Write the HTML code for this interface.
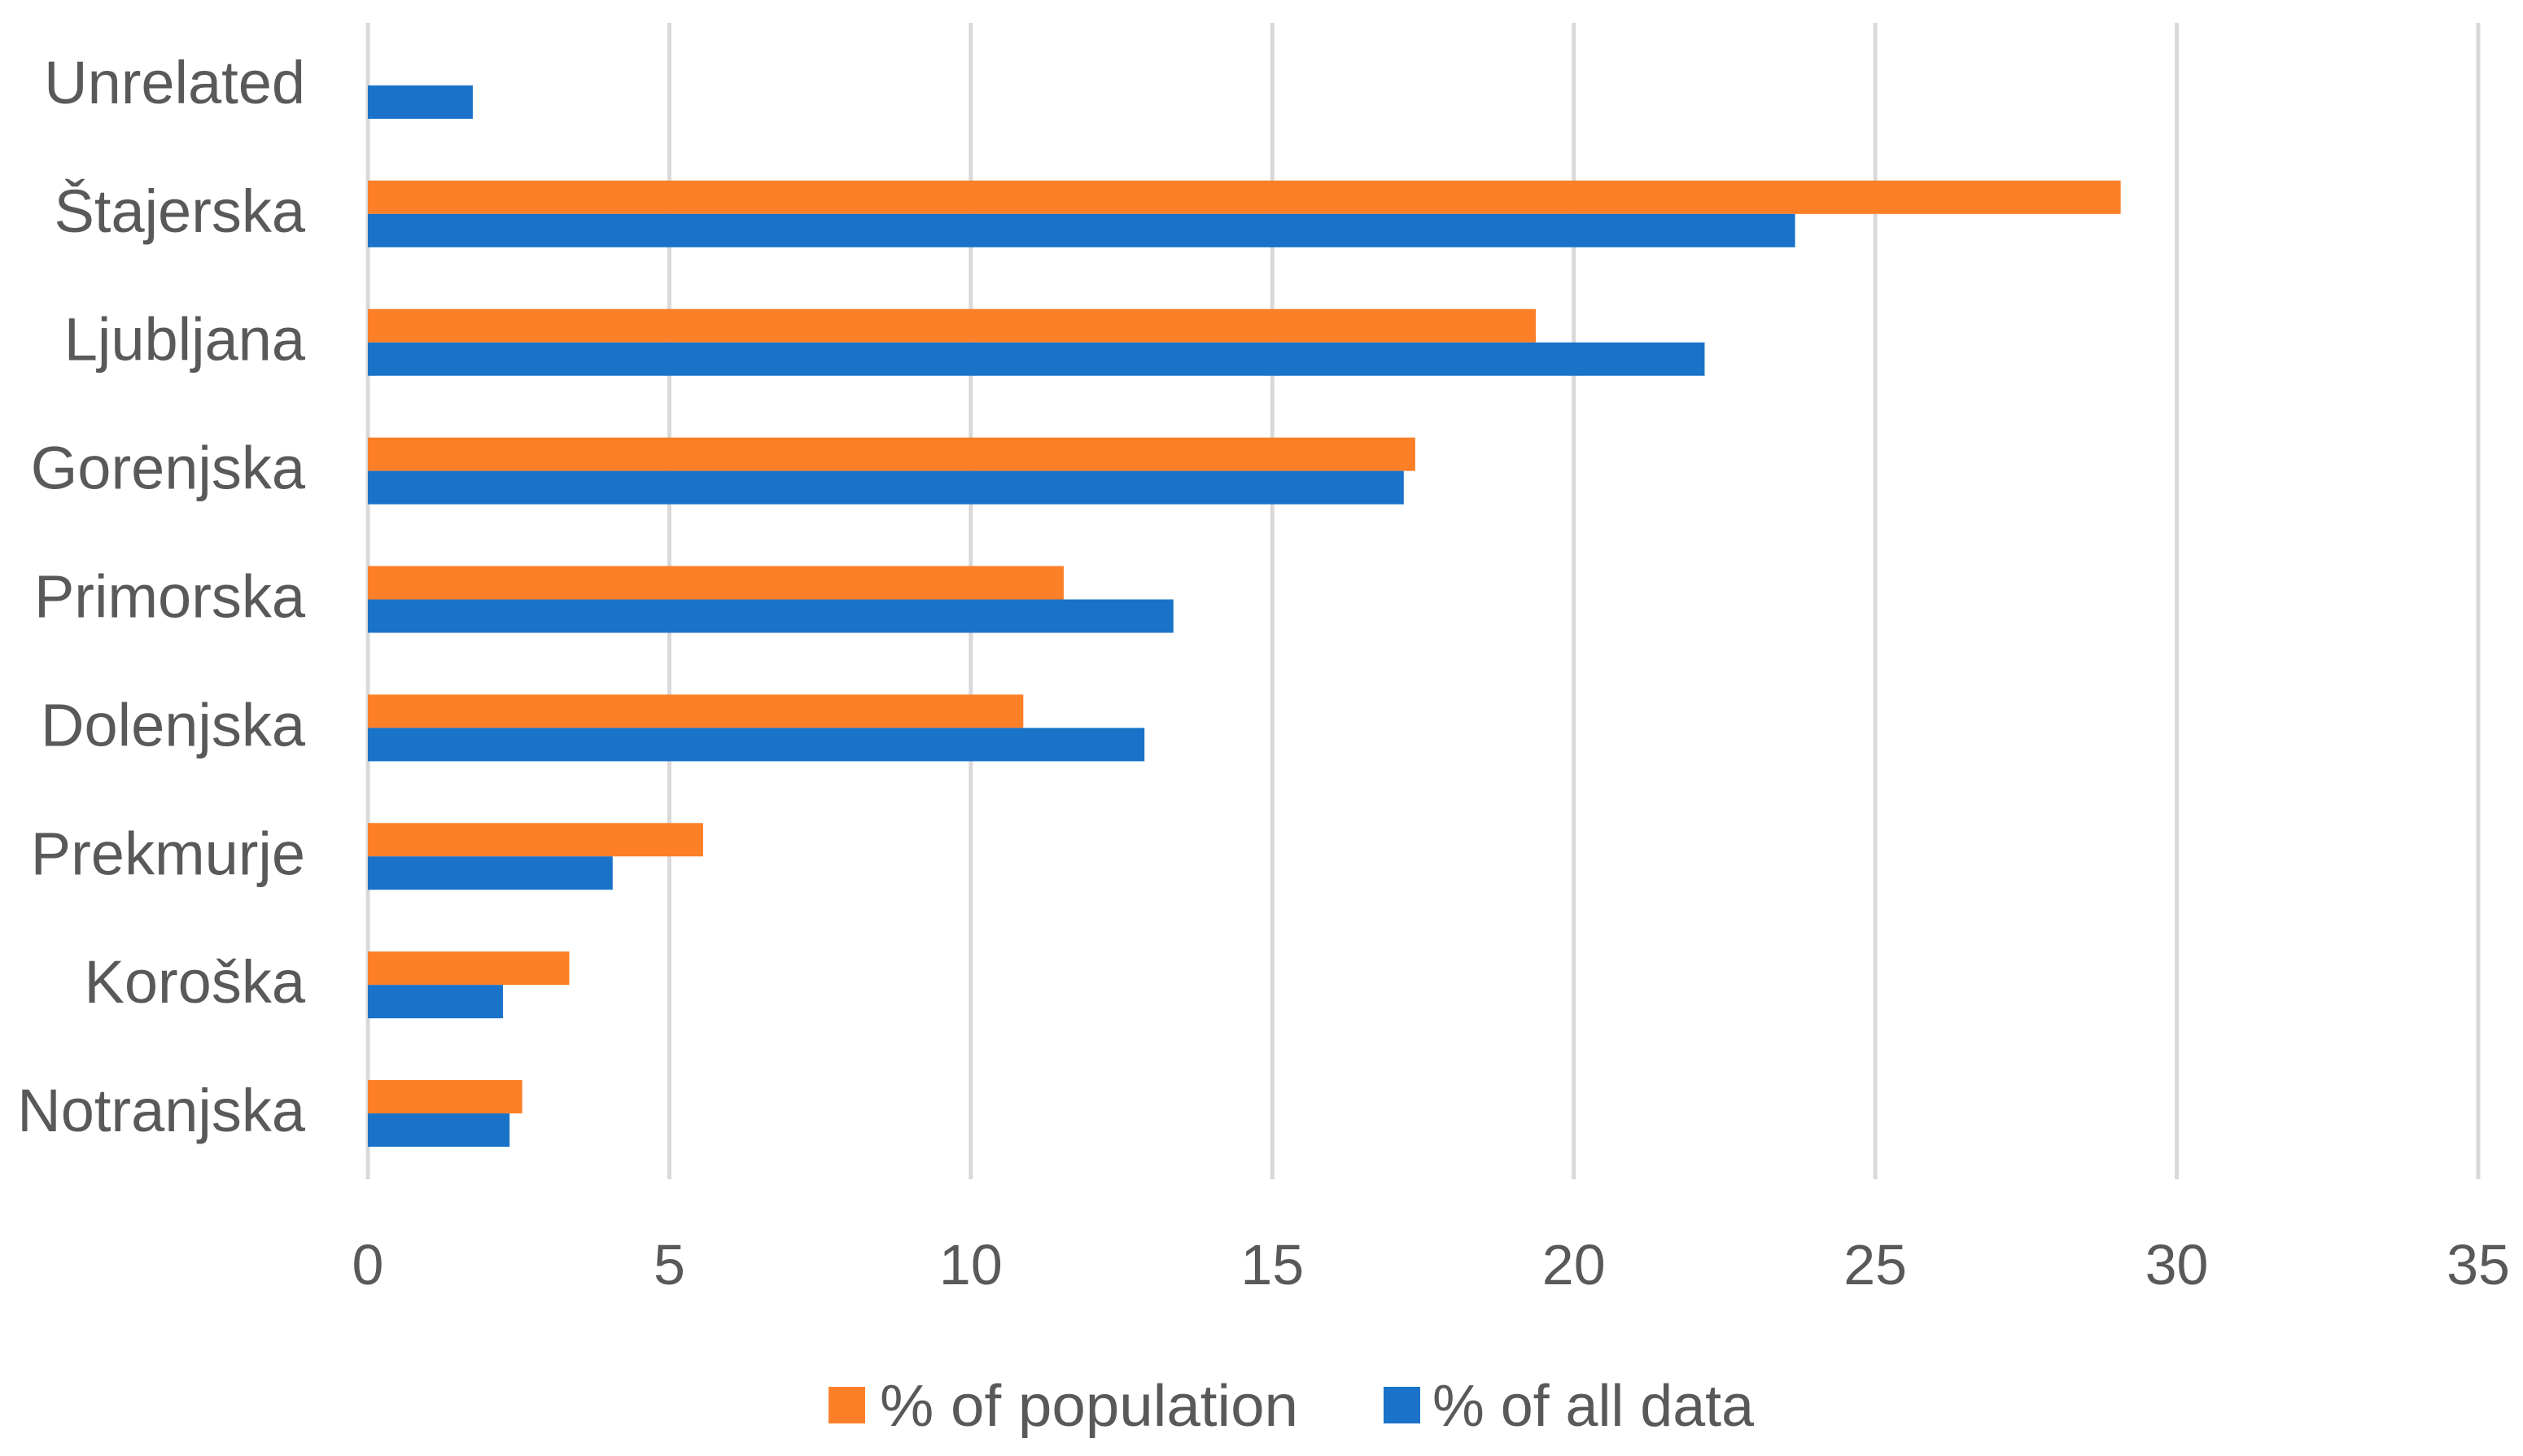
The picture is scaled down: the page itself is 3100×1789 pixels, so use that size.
<!DOCTYPE html>
<html><head><meta charset="utf-8"><style>
html,body{margin:0;padding:0;background:#fff;}
svg text{font-family:"Liberation Sans",sans-serif;fill:#595959;}
</style></head><body>
<svg id="chart" width="3100" height="1784" viewBox="0 0 3100 1784" xmlns="http://www.w3.org/2000/svg">
<g id="grid"></g>
<g id="bars"></g>
<g id="ylabels"></g>
<g id="xlabels"></g>
<g>
  <g>
    <rect x="1018" y="1704" width="45" height="45" fill="#fd7f28"></rect>
    <text x="1081" y="1752" font-size="72" textLength="514" lengthAdjust="spacingAndGlyphs">% of population</text>
  </g>
  <g>
    <rect x="1700" y="1704" width="45" height="45" fill="#1a73c8"></rect>
    <text x="1760" y="1752" font-size="72" textLength="395" lengthAdjust="spacingAndGlyphs">% of all data</text>
  </g>
</g>
</svg>
<script>
const categories = ["Unrelated","Štajerska","Ljubljana","Gorenjska","Primorska","Dolenjska","Prekmurje","Koroška","Notranjska"];
const populationValues = [0, 29.07, 19.37, 17.37, 11.54, 10.87, 5.56, 3.34, 2.56];
const allDataValues = [1.74, 23.67, 22.17, 17.18, 13.36, 12.88, 4.06, 2.24, 2.35];
const xTicks = [0,5,10,15,20,25,30,35];

const NS = "http://www.w3.org/2000/svg";
const x0 = 452, x1 = 3045, xMax = 35;
const yTop = 28, yBot = 1449;
const band = (yBot - yTop) / categories.length;
const barH = 41;
const xs = v => x0 + (v / xMax) * (x1 - x0);
const yc = i => yTop + band * (i + 0.5);

function mk(tag, attrs, parent){
  const el = document.createElementNS(NS, tag);
  for (const k in attrs) el.setAttribute(k, attrs[k]);
  parent.appendChild(el);
  return el;
}
const grid = document.getElementById('grid');
const xl = document.getElementById('xlabels');
xTicks.forEach(t => {
  const l = mk('line', {x1: xs(t), x2: xs(t), y1: yTop, y2: yBot, stroke: '#d9d9d9', 'stroke-width': 5}, grid);
  
  
  const tx = mk('text', {x: xs(t), y: 1578, 'font-size': 70, 'text-anchor': 'middle'}, xl);
  tx.textContent = t;
  
  
});
const bars = document.getElementById('bars');
const yl = document.getElementById('ylabels');
categories.forEach((c, i) => {
  const cy = yc(i) - 2;
  if (populationValues[i] > 0) {
    const r = mk('rect', {x: x0, y: cy - barH, width: xs(populationValues[i]) - x0, height: barH, fill: '#fd7f28'}, bars);
    
    
  }
  const b = mk('rect', {x: x0, y: cy, width: xs(allDataValues[i]) - x0, height: barH, fill: '#1a73c8'}, bars);
  
  
  const t = mk('text', {x: 375, y: yc(i) + 20, 'font-size': 74, 'text-anchor': 'end'}, yl);
  t.textContent = c;
  
  
});
</script>
</body></html>
